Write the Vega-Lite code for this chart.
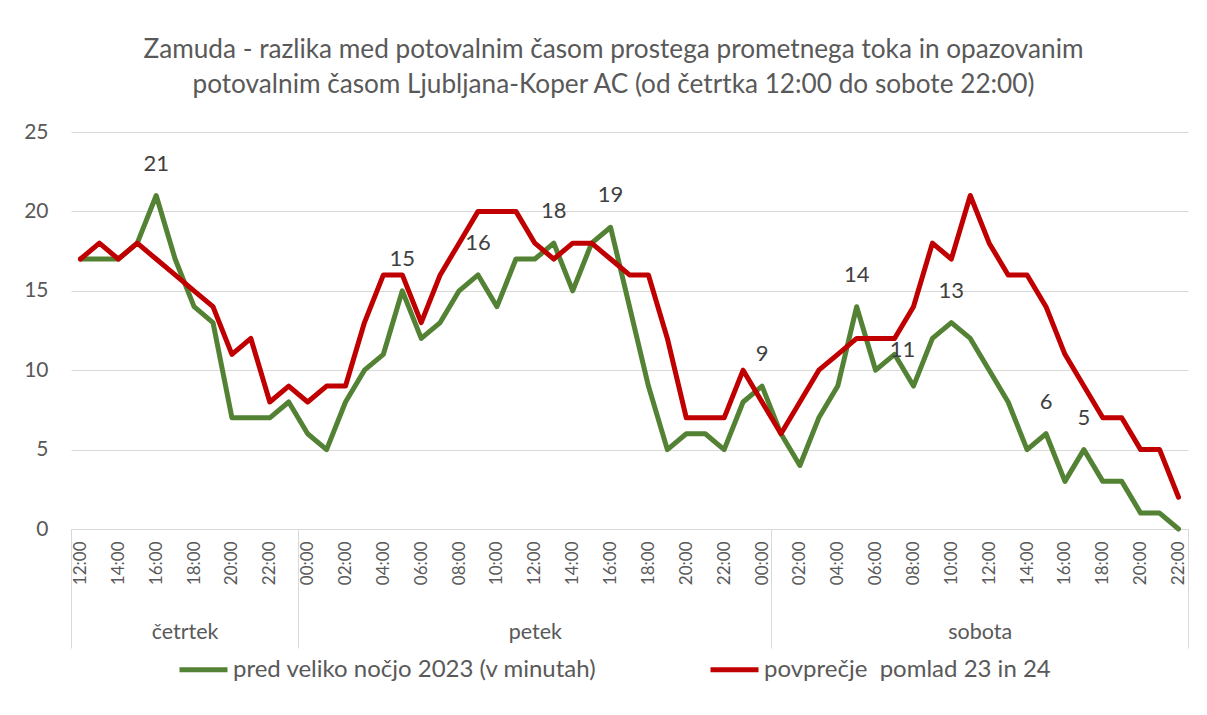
{
  "$schema": "https://vega.github.io/schema/vega-lite/v6.json",
  "width": 1117,
  "height": 397,
  "autosize": {"type": "none"},
  "padding": {"left": 71, "top": 132, "right": 19, "bottom": 186},
  "background": "white",
  "config": {
    "view": {"stroke": null},
    "font": "Lato"
  },
  "title": {
    "text": ["Zamuda - razlika med potovalnim časom prostega prometnega toka in opazovanim", "potovalnim časom Ljubljana-Koper AC (od četrtka 12:00 do sobote 22:00)"],
    "fontSize": 26.2, "font": "Lato", "fontWeight": "normal", "color": "#595959",
    "lineHeight": 35, "anchor": "middle", "dx": -16, "offset": 23
  },
  "data": {"values": [
    {"i": 0, "dan": "četrtek", "ura": "12:00", "pred": 17, "povp": 17, "oznaka": 0},
    {"i": 1, "dan": "četrtek", "ura": "13:00", "pred": 17, "povp": 18, "oznaka": 0},
    {"i": 2, "dan": "četrtek", "ura": "14:00", "pred": 17, "povp": 17, "oznaka": 0},
    {"i": 3, "dan": "četrtek", "ura": "15:00", "pred": 18, "povp": 18, "oznaka": 0},
    {"i": 4, "dan": "četrtek", "ura": "16:00", "pred": 21, "povp": 17, "oznaka": 1},
    {"i": 5, "dan": "četrtek", "ura": "17:00", "pred": 17, "povp": 16, "oznaka": 0},
    {"i": 6, "dan": "četrtek", "ura": "18:00", "pred": 14, "povp": 15, "oznaka": 0},
    {"i": 7, "dan": "četrtek", "ura": "19:00", "pred": 13, "povp": 14, "oznaka": 0},
    {"i": 8, "dan": "četrtek", "ura": "20:00", "pred": 7, "povp": 11, "oznaka": 0},
    {"i": 9, "dan": "četrtek", "ura": "21:00", "pred": 7, "povp": 12, "oznaka": 0},
    {"i": 10, "dan": "četrtek", "ura": "22:00", "pred": 7, "povp": 8, "oznaka": 0},
    {"i": 11, "dan": "četrtek", "ura": "23:00", "pred": 8, "povp": 9, "oznaka": 0},
    {"i": 12, "dan": "petek", "ura": "00:00", "pred": 6, "povp": 8, "oznaka": 0},
    {"i": 13, "dan": "petek", "ura": "01:00", "pred": 5, "povp": 9, "oznaka": 0},
    {"i": 14, "dan": "petek", "ura": "02:00", "pred": 8, "povp": 9, "oznaka": 0},
    {"i": 15, "dan": "petek", "ura": "03:00", "pred": 10, "povp": 13, "oznaka": 0},
    {"i": 16, "dan": "petek", "ura": "04:00", "pred": 11, "povp": 16, "oznaka": 0},
    {"i": 17, "dan": "petek", "ura": "05:00", "pred": 15, "povp": 16, "oznaka": 1},
    {"i": 18, "dan": "petek", "ura": "06:00", "pred": 12, "povp": 13, "oznaka": 0},
    {"i": 19, "dan": "petek", "ura": "07:00", "pred": 13, "povp": 16, "oznaka": 0},
    {"i": 20, "dan": "petek", "ura": "08:00", "pred": 15, "povp": 18, "oznaka": 0},
    {"i": 21, "dan": "petek", "ura": "09:00", "pred": 16, "povp": 20, "oznaka": 1},
    {"i": 22, "dan": "petek", "ura": "10:00", "pred": 14, "povp": 20, "oznaka": 0},
    {"i": 23, "dan": "petek", "ura": "11:00", "pred": 17, "povp": 20, "oznaka": 0},
    {"i": 24, "dan": "petek", "ura": "12:00", "pred": 17, "povp": 18, "oznaka": 0},
    {"i": 25, "dan": "petek", "ura": "13:00", "pred": 18, "povp": 17, "oznaka": 1},
    {"i": 26, "dan": "petek", "ura": "14:00", "pred": 15, "povp": 18, "oznaka": 0},
    {"i": 27, "dan": "petek", "ura": "15:00", "pred": 18, "povp": 18, "oznaka": 0},
    {"i": 28, "dan": "petek", "ura": "16:00", "pred": 19, "povp": 17, "oznaka": 1},
    {"i": 29, "dan": "petek", "ura": "17:00", "pred": 14, "povp": 16, "oznaka": 0},
    {"i": 30, "dan": "petek", "ura": "18:00", "pred": 9, "povp": 16, "oznaka": 0},
    {"i": 31, "dan": "petek", "ura": "19:00", "pred": 5, "povp": 12, "oznaka": 0},
    {"i": 32, "dan": "petek", "ura": "20:00", "pred": 6, "povp": 7, "oznaka": 0},
    {"i": 33, "dan": "petek", "ura": "21:00", "pred": 6, "povp": 7, "oznaka": 0},
    {"i": 34, "dan": "petek", "ura": "22:00", "pred": 5, "povp": 7, "oznaka": 0},
    {"i": 35, "dan": "petek", "ura": "23:00", "pred": 8, "povp": 10, "oznaka": 0},
    {"i": 36, "dan": "petek", "ura": "00:00", "pred": 9, "povp": 8, "oznaka": 1},
    {"i": 37, "dan": "sobota", "ura": "01:00", "pred": 6, "povp": 6, "oznaka": 0},
    {"i": 38, "dan": "sobota", "ura": "02:00", "pred": 4, "povp": 8, "oznaka": 0},
    {"i": 39, "dan": "sobota", "ura": "03:00", "pred": 7, "povp": 10, "oznaka": 0},
    {"i": 40, "dan": "sobota", "ura": "04:00", "pred": 9, "povp": 11, "oznaka": 0},
    {"i": 41, "dan": "sobota", "ura": "05:00", "pred": 14, "povp": 12, "oznaka": 1},
    {"i": 42, "dan": "sobota", "ura": "06:00", "pred": 10, "povp": 12, "oznaka": 0},
    {"i": 43, "dan": "sobota", "ura": "07:00", "pred": 11, "povp": 12, "oznaka": 2},
    {"i": 44, "dan": "sobota", "ura": "08:00", "pred": 9, "povp": 14, "oznaka": 0},
    {"i": 45, "dan": "sobota", "ura": "09:00", "pred": 12, "povp": 18, "oznaka": 0},
    {"i": 46, "dan": "sobota", "ura": "10:00", "pred": 13, "povp": 17, "oznaka": 1},
    {"i": 47, "dan": "sobota", "ura": "11:00", "pred": 12, "povp": 21, "oznaka": 0},
    {"i": 48, "dan": "sobota", "ura": "12:00", "pred": 10, "povp": 18, "oznaka": 0},
    {"i": 49, "dan": "sobota", "ura": "13:00", "pred": 8, "povp": 16, "oznaka": 0},
    {"i": 50, "dan": "sobota", "ura": "14:00", "pred": 5, "povp": 16, "oznaka": 0},
    {"i": 51, "dan": "sobota", "ura": "15:00", "pred": 6, "povp": 14, "oznaka": 1},
    {"i": 52, "dan": "sobota", "ura": "16:00", "pred": 3, "povp": 11, "oznaka": 0},
    {"i": 53, "dan": "sobota", "ura": "17:00", "pred": 5, "povp": 9, "oznaka": 1},
    {"i": 54, "dan": "sobota", "ura": "18:00", "pred": 3, "povp": 7, "oznaka": 0},
    {"i": 55, "dan": "sobota", "ura": "19:00", "pred": 3, "povp": 7, "oznaka": 0},
    {"i": 56, "dan": "sobota", "ura": "20:00", "pred": 1, "povp": 5, "oznaka": 0},
    {"i": 57, "dan": "sobota", "ura": "21:00", "pred": 1, "povp": 5, "oznaka": 0},
    {"i": 58, "dan": "sobota", "ura": "22:00", "pred": 0, "povp": 2, "oznaka": 0}
  ]},
  "layer": [
    {
      "transform": [{"fold": ["pred", "povp"], "as": ["serija", "vrednost"]}],
      "mark": {"type": "line", "strokeWidth": 5, "strokeJoin": "round", "strokeCap": "round"},
      "encoding": {
        "x": {
          "field": "i", "type": "quantitative",
          "scale": {"domain": [-0.5, 58.5], "nice": false, "zero": false},
          "axis": {
            "values": [0, 2, 4, 6, 8, 10, 12, 14, 16, 18, 20, 22, 24, 26, 28, 30, 32, 34, 36, 38, 40, 42, 44, 46, 48, 50, 52, 54, 56, 58],
            "labelExpr": "pad(((12 + datum.value) % 24) + ':00', 5, '0', 'left')",
            "labelAngle": 270, "labelPadding": 12, "labelFontSize": 17, "labelColor": "#595959", "labelFont": "Lato",
            "ticks": false, "grid": false, "domain": true, "domainColor": "#d9d9d9", "domainWidth": 1,
            "labelFlush": false, "labelOverlap": false, "title": null
          }
        },
        "y": {
          "field": "vrednost", "type": "quantitative", "scale": {"domain": [0, 25], "nice": false},
          "axis": {"title": null, "values": [0, 5, 10, 15, 20, 25], "grid": true, "gridColor": "#d9d9d9", "gridWidth": 1, "domain": false, "ticks": false, "labelPadding": 23, "labelFontSize": 21, "labelColor": "#595959", "labelFont": "Lato"}
        },
        "color": {
          "field": "serija", "type": "nominal",
          "scale": {"domain": ["pred", "povp"], "range": ["#548235", "#C00000"]},
          "legend": {
            "orient": "none", "legendX": 106, "legendY": 511, "direction": "horizontal", "title": null,
            "symbolType": "stroke", "symbolSize": 2304, "symbolStrokeWidth": 5,
            "labelFontSize": 24, "labelColor": "#595959", "labelFont": "Lato", "labelOffset": 3, "labelLimit": 600,
            "columnPadding": 103,
            "labelExpr": "datum.value == 'pred' ? 'pred veliko nočjo 2023 (v minutah)' : 'povprečje\u00a0 pomlad 23 in 24'"
          }
        }
      }
    },
    {
      "transform": [{"filter": "datum.oznaka == 1"}],
      "mark": {"type": "text", "dy": -32, "fontSize": 22, "color": "#404040", "baseline": "middle", "align": "center", "font": "Lato"},
      "encoding": {
        "x": {
          "field": "i", "type": "quantitative",
          "scale": {"domain": [-0.5, 58.5], "nice": false, "zero": false},
          "axis": {
            "orient": "bottom",
            "values": [-0.5, 5.5, 11.5, 24, 36.5, 47.5, 58.5],
            "labelExpr": "datum.value == 5.5 ? 'četrtek' : datum.value == 24 ? 'petek' : datum.value == 47.5 ? 'sobota' : ''",
            "domain": false, "grid": false, "ticks": true, "tickSize": 119, "tickColor": "#d9d9d9", "tickWidth": 1,
            "tickOpacity": {"condition": {"test": "datum.value == 5.5 || datum.value == 24 || datum.value == 47.5", "value": 0}, "value": 1},
            "labelAngle": 0, "labelBaseline": "middle", "labelAlign": "center", "labelPadding": -16,
            "labelFontSize": 21.5, "labelColor": "#595959", "labelFont": "Lato",
            "labelFlush": false, "labelOverlap": false, "labelBound": false, "title": null
          }
        },
        "y": {"field": "pred", "type": "quantitative", "axis": {"title": null}},
        "text": {"field": "pred", "type": "quantitative"}
      }
    },
    {
      "transform": [{"filter": "datum.oznaka == 2"}],
      "mark": {"type": "text", "dy": -4, "dx": 8, "fontSize": 22, "color": "#404040", "baseline": "middle", "align": "center", "font": "Lato"},
      "encoding": {
        "x": {"field": "i", "type": "quantitative", "scale": {"domain": [-0.5, 58.5], "nice": false, "zero": false}, "axis": null},
        "y": {"field": "pred", "type": "quantitative", "axis": {"title": null}},
        "text": {"field": "pred", "type": "quantitative"}
      }
    }
  ],
  "resolve": {"scale": {"x": "independent"}}
}
